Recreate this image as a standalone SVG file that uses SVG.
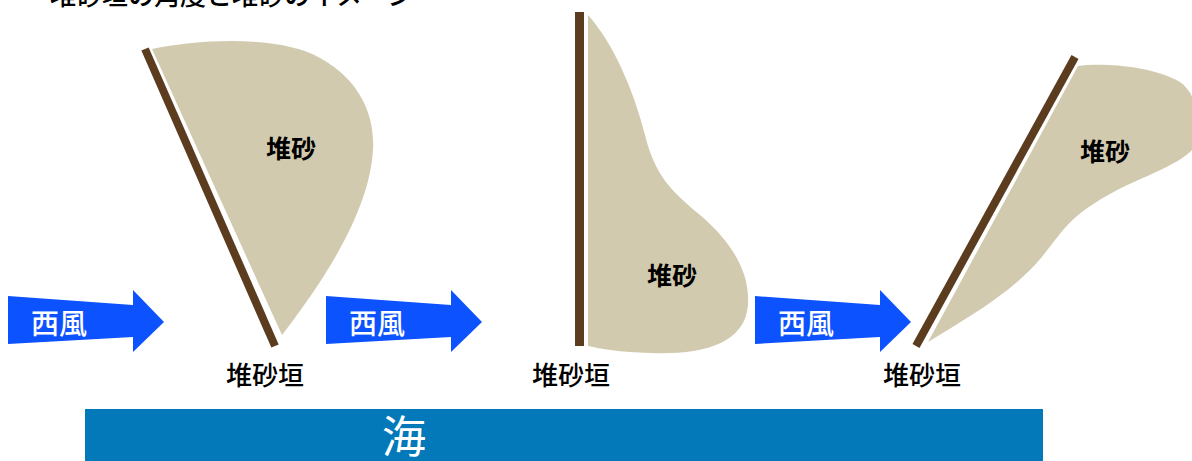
<svg xmlns="http://www.w3.org/2000/svg" width="1192" height="461" viewBox="0 0 1192 461">
<style>
.t{font-family:"Noto Sans CJK JP","Noto Sans CJK SC",sans-serif;}
.lbl{font-size:26px;fill:#000;text-anchor:middle;font-weight:500;}
.sand{fill:#D2CAAF;}
.sandlbl{font-size:25px;fill:#000;text-anchor:middle;font-weight:bold;}
.wall{stroke:#5B3C1E;stroke-width:8;fill:none;}
.wind{fill:#0D52FF;}
.windlbl{font-size:28px;fill:#fff;font-weight:500;}
</style>
<defs>
<path id="arrow" d="M8,296 L133,305 L133,290 L164,322 L133,352 L133,337 L8,344 Z"/>
</defs>
<text class="t" x="50" y="5" style="font-size:26px;font-weight:500;fill:#000">堆砂垣の角度と堆砂のイメージ</text>

<g id="sea">
<rect x="85" y="409" width="958" height="52" fill="#0479BA"/>
<text class="t" x="404" y="453" style="font-size:44px;fill:#fff;text-anchor:middle">海</text>
</g>

<g id="fence1">
<path class="sand" d="M152,49 C200,39 280,35 320,58 C360,80 375,115 373,150 C370,200 340,260 282,335 Z"/>
<line class="wall" x1="145" y1="49" x2="275" y2="346"/>
<text class="t sandlbl" x="291" y="158">堆砂</text>
<text class="t lbl" x="265" y="385">堆砂垣</text>
</g>

<g id="fence2">
<path class="sand" d="M588,15 C615,45 635,95 645,135 C655,175 670,190 700,215 C735,245 750,275 748,305 C745,345 700,355 650,353 C620,352 600,349 588,346 Z"/>
<line class="wall" x1="579.5" y1="12" x2="579.5" y2="346" style="stroke-width:9"/>
<text class="t sandlbl" x="672" y="285">堆砂</text>
<text class="t lbl" x="571" y="385">堆砂垣</text>
</g>

<g id="fence3">
<path class="sand" d="M1078,66 C1100,63 1150,65 1180,82 C1200,95 1205,140 1190,152 C1170,170 1130,180 1095,203 C1060,225 1055,245 1030,270 C1000,300 960,322 928,342 Z"/>
<line class="wall" x1="1075" y1="57" x2="916" y2="346"/>
<text class="t sandlbl" x="1105" y="161">堆砂</text>
<text class="t lbl" x="922" y="385">堆砂垣</text>
</g>

<g id="wind1">
<use href="#arrow" class="wind"/>
<text class="t windlbl" x="31" y="334">西風</text>
</g>
<g id="wind2">
<use href="#arrow" class="wind" transform="translate(318,0)"/>
<text class="t windlbl" x="349" y="334">西風</text>
</g>
<g id="wind3">
<use href="#arrow" class="wind" transform="translate(747,0)"/>
<text class="t windlbl" x="778" y="334">西風</text>
</g>
<g id="connectors"></g>
</svg>
